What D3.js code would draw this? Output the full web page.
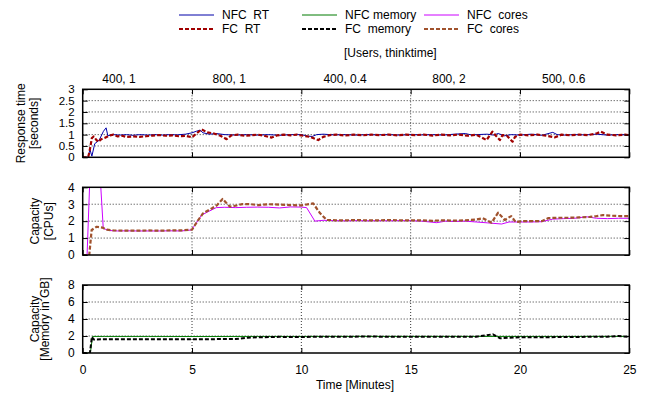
<!DOCTYPE html>
<html><head><meta charset="utf-8">
<script src="https://cdn.jsdelivr.net/npm/d3@7"></script>
<style>
body{margin:0;background:#fff;}
svg text{font-family:"Liberation Sans",Arial,Helvetica,sans-serif;font-size:12px;fill:#000;}
</style></head>
<body><svg id="c" width="650" height="398"></svg>
<script>
// ---- data ----
const xTicks = [0,5,10,15,20,25];
const phaseLabels = ["400, 1","800, 1","400, 0.4","800, 2","500, 0.6"];
const phasePos = [1.66,6.7,12.0,16.75,22.0];
const rtTicks = [0,0.5,1,1.5,2,2.5,3];
const cpuTicks = [0,1,2,3,4];
const memTicks = [0,2,4,6,8];

const nfcRT = [[0,0],[0.25,0],[0.33,0.35],[0.42,0.05],[0.55,0.6],[0.75,0.75],[0.95,1.15],[1.07,1.3],[1.15,0.95],[1.4,1.0],[1.7,0.98],[2.0,1.0],[2.3,0.97],[2.6,1.0],[3.0,0.98],[3.3,1.0],[3.6,0.98],[4.0,1.0],[4.3,0.99],[4.7,1.02],[5.0,1.08],[5.2,1.15],[5.37,1.2],[5.5,1.08],[5.8,1.02],[6.1,1.05],[6.5,1.0],[7.0,0.98],[7.5,1.0],[8,0.98],[8.5,1.0],[9,0.97],[9.5,1.0],[10,1.0],[10.3,0.93],[10.5,0.92],[10.7,1.0],[11,1.02],[11.5,0.99],[12,1.0],[12.5,0.98],[13,1.0],[13.5,0.99],[14,1.0],[14.5,0.98],[15,1.0],[15.5,0.99],[16,1.0],[16.5,0.98],[17,1.02],[17.5,1.05],[17.8,0.98],[18,1.0],[18.5,1.02],[18.8,0.98],[19,1.05],[19.3,0.95],[19.6,1.0],[20,0.98],[20.5,1.02],[21,0.97],[21.5,1.1],[21.7,1.0],[22,0.98],[22.5,1.0],[23,0.99],[23.5,1.02],[24,0.98],[24.5,1.0],[25,0.99]];
const fcRT = [[0,0],[0.25,0],[0.32,0.3],[0.42,0.85],[0.5,0.92],[0.6,0.8],[0.71,0.68],[0.85,0.8],[1.0,0.85],[1.2,0.95],[1.4,1.0],[1.6,0.92],[1.8,0.95],[2.0,0.9],[2.3,0.92],[2.6,0.9],[2.9,0.93],[3.2,0.96],[3.5,0.98],[3.8,0.95],[4.1,0.97],[4.4,0.93],[4.7,0.95],[5.0,0.88],[5.2,1.05],[5.44,1.23],[5.7,1.1],[6.0,1.05],[6.3,0.95],[6.58,0.8],[6.8,0.97],[7.1,1.0],[7.4,0.95],[7.7,0.97],[8.0,1.0],[8.3,0.95],[8.64,0.87],[8.9,0.97],[9.2,1.0],[9.5,0.97],[9.8,1.0],[10.1,0.95],[10.4,0.9],[10.77,0.76],[11.0,0.9],[11.3,0.98],[11.6,1.0],[12,0.96],[12.4,1.0],[12.8,0.97],[13.2,1.0],[13.6,0.98],[14,1.0],[14.4,0.97],[14.8,1.0],[15.2,0.98],[15.6,1.0],[16,0.96],[16.4,1.0],[16.8,0.97],[17.2,1.0],[17.6,0.95],[18.0,1.0],[18.2,0.9],[18.47,0.76],[18.74,1.13],[18.9,0.95],[19.08,0.76],[19.2,0.98],[19.4,0.95],[19.66,0.69],[19.77,0.9],[20.0,1.0],[20.4,0.97],[20.8,1.0],[21.2,0.95],[21.6,0.88],[21.9,1.0],[22.3,0.97],[22.7,1.0],[23.1,0.98],[23.5,1.05],[23.7,1.13],[24.0,1.0],[24.4,0.97],[24.8,1.0],[25,0.98]];
const nfcCores = [[0,0],[0.2,0],[0.33,4.6],[0.8,4.6],[0.94,1.57],[1.2,1.45],[1.6,1.42],[2,1.43],[2.5,1.42],[3,1.42],[3.5,1.42],[4,1.43],[4.5,1.42],[4.98,1.48],[5.2,1.9],[5.44,2.36],[5.8,2.6],[6.11,2.8],[6.5,2.82],[7,2.8],[7.5,2.82],[8,2.83],[8.5,2.82],[9,2.78],[9.5,2.84],[10,2.83],[10.24,2.8],[10.62,2.0],[11,2.05],[11.5,2.03],[12,2.02],[12.5,2.03],[13,2.02],[13.5,2.03],[14,2.02],[14.5,2.03],[15,2.03],[15.5,2.0],[16.19,1.91],[16.6,2.0],[17,1.98],[17.5,2.0],[18,1.95],[18.5,1.9],[19.16,1.83],[19.5,1.95],[20,1.95],[20.5,1.95],[21,1.97],[21.5,2.12],[22,2.15],[22.5,2.17],[23.04,2.26],[23.5,2.17],[24,2.15],[24.5,2.17],[25,2.17]];
const fcCores = [[0,0],[0.3,0],[0.41,1.48],[0.64,1.67],[0.9,1.62],[1.1,1.5],[1.4,1.45],[2,1.44],[2.5,1.44],[3,1.45],[3.5,1.44],[4,1.45],[4.5,1.45],[5,1.5],[5.2,1.9],[5.5,2.46],[5.9,2.75],[6.15,2.95],[6.4,3.31],[6.73,2.86],[7.0,2.92],[7.3,3.01],[7.7,3.0],[8.0,2.95],[8.5,3.0],[9.0,2.98],[9.5,2.95],[10.0,2.93],[10.54,3.05],[10.85,2.48],[11.16,2.07],[11.6,2.05],[12,2.05],[12.5,2.06],[13,2.05],[13.5,2.05],[14,2.06],[14.5,2.05],[15,2.05],[15.5,2.05],[16,2.02],[16.5,2.05],[17,2.03],[17.5,2.05],[18,2.1],[18.3,2.17],[18.7,1.91],[19.0,2.5],[19.3,2.07],[19.6,2.3],[19.8,1.95],[20.2,2.0],[20.6,2.0],[21.0,2.0],[21.3,2.18],[21.7,2.2],[22.2,2.2],[22.7,2.22],[23.2,2.25],[23.5,2.3],[23.8,2.36],[24.2,2.32],[24.6,2.3],[25,2.3]];
const nfcMem = [[0,0],[0.35,0],[0.45,1.95],[1,1.95],[3,1.95],[5,1.94],[8,1.95],[10,1.95],[12,1.95],[15,1.95],[18,1.95],[20,1.95],[22,1.95],[25,1.95]];
const fcMem = [[0,0],[0.33,0],[0.42,1.9],[0.5,1.58],[0.6,1.6],[1,1.62],[2,1.63],[3,1.62],[4,1.63],[5,1.62],[6,1.63],[7,1.65],[7.56,1.8],[8,1.85],[9,1.9],[10,1.88],[11,1.92],[12,1.9],[13,1.95],[14,1.9],[15,1.92],[16,1.9],[17,1.9],[18,1.92],[18.76,2.2],[19.1,1.73],[19.5,1.8],[20,1.85],[21,1.85],[22,1.88],[23,1.9],[24,1.92],[24.5,2.0],[25,1.9]];

// ---- layout ----
const svg = d3.select("#c");
const x = d3.scaleLinear().domain([0,25]).range([82.7,629.3]);
const C = {nfcRT:"#0000a8", fcRT:"#a00000", nfcCores:"#cc00ff", fcCores:"#a0522d", nfcMem:"#007a00", fcMem:"#000000"};
const panels = [
  {y:d3.scaleLinear().domain([0,3]).range([157.3,89.3]), ticks:rtTicks, lab:["Response time","[seconds]"], lx:[25,38], fs:11.5,
   series:[{d:nfcRT,c:C.nfcRT,w:1,dash:null},{d:fcRT,c:C.fcRT,w:2.2,dash:"4,2"}]},
  {y:d3.scaleLinear().domain([0,4]).range([255,187.3]), ticks:cpuTicks, lab:["Capacity","[CPUs]"], lx:[38.5,53], fs:12,
   series:[{d:nfcCores,c:C.nfcCores,w:1,dash:null},{d:fcCores,c:C.fcCores,w:2.2,dash:"4,2"}]},
  {y:d3.scaleLinear().domain([0,8]).range([353,285]), ticks:memTicks, lab:["Capacity","[Memory in GB]"], lx:[39,49], fs:12,
   series:[{d:nfcMem,c:C.nfcMem,w:1,dash:null},{d:fcMem,c:C.fcMem,w:2,dash:"4,2"}]}
];
const x0 = x.range()[0], x1 = x.range()[1];

panels.forEach((p,i)=>{
  const y = p.y, yb = y.range()[0], yt = y.range()[1];
  const g = svg.append("g");
  const inner = p.ticks.slice(1,-1);
  g.selectAll(".hg").data(inner).join("line")
    .attr("x1",x0).attr("x2",x1).attr("y1",d=>y(d)).attr("y2",d=>y(d))
    .attr("stroke","#000").attr("stroke-width",0.8).attr("stroke-dasharray","1,2");
  g.selectAll(".vg").data(xTicks.slice(1,-1)).join("line")
    .attr("x1",d=>x(d)).attr("x2",d=>x(d)).attr("y1",yt).attr("y2",yb)
    .attr("stroke","#000").attr("stroke-width",0.8).attr("stroke-dasharray","1,2");
  const cid = "clip"+i;
  svg.append("clipPath").attr("id",cid).append("rect")
    .attr("x",x0).attr("y",yt).attr("width",x1-x0).attr("height",yb-yt);
  const line = d3.line().x(d=>x(d[0])).y(d=>y(d[1]));
  const lg = g.append("g").attr("clip-path",`url(#${cid})`);
  p.series.forEach(s=>{
    lg.append("path").datum(s.d).attr("d",line).attr("fill","none")
      .attr("stroke",s.c).attr("stroke-width",s.w)
      .attr("stroke-dasharray",s.dash).attr("stroke-linejoin","round");
  });
  const fmt = d=>String(d);
  const la = g.append("g").attr("transform",`translate(${x0},0)`)
    .call(d3.axisLeft(y).tickValues(p.ticks).tickFormat(fmt).tickSize(-5).tickPadding(8));
  const ra = g.append("g").attr("transform",`translate(${x1},0)`)
    .call(d3.axisRight(y).tickValues(p.ticks).tickFormat("").tickSize(-5));
  const ba = g.append("g").attr("transform",`translate(0,${yb})`)
    .call(d3.axisBottom(x).tickValues(xTicks).tickFormat(i===2?fmt:"").tickSize(-5).tickPadding(12));
  const ta = g.append("g").attr("transform",`translate(0,${yt})`)
    .call(d3.axisTop(x).tickValues(xTicks).tickFormat("").tickSize(-5));
  [la,ra,ba,ta].forEach(a=>{
    a.select(".domain").remove();
    a.selectAll("line").attr("stroke","#000").attr("stroke-width",1);
    a.selectAll("text").attr("font-family",null).attr("font-size",null).style("font-size","12px").attr("fill","#000");
  });
  la.selectAll("text").style("font-size",p.fs+"px");
  ba.selectAll("text").attr("dy","0.71em");
  g.append("rect").attr("x",x0).attr("y",yt).attr("width",x1-x0).attr("height",yb-yt)
    .attr("fill","none").attr("stroke","#000").attr("stroke-width",1.5);
  const cy = (yt+yb)/2;
  p.lab.forEach((t,k)=>{
    svg.append("text").attr("transform",`translate(${p.lx[k]},${cy}) rotate(-90)`)
      .attr("text-anchor","middle").text(t);
  });
});

svg.selectAll(".ph").data(phaseLabels).join("text")
  .attr("x",(d,i)=>x(phasePos[i])).attr("y",83).attr("text-anchor","middle").text(d=>d);
svg.append("text").attr("x",344).attr("y",57).text("[Users, thinktime]");
svg.append("text").attr("x",355).attr("y",389).attr("text-anchor","middle").text("Time [Minutes]");

const legend = [
  {t:"NFC  RT",c:C.nfcRT,w:1,dash:null,lx:179,row:0},
  {t:"FC  RT",c:C.fcRT,w:2.2,dash:"4,2",lx:179,row:1},
  {t:"NFC memory",c:C.nfcMem,w:1,dash:null,lx:302,row:0},
  {t:"FC  memory",c:C.fcMem,w:2,dash:"4,2",lx:302,row:1},
  {t:"NFC  cores",c:C.nfcCores,w:1,dash:null,lx:424,row:0},
  {t:"FC  cores",c:C.fcCores,w:2.2,dash:"4,2",lx:424,row:1}
];
legend.forEach(l=>{
  const yy = 15 + l.row*14;
  svg.append("line").attr("x1",l.lx).attr("x2",l.lx+35).attr("y1",yy).attr("y2",yy)
    .attr("stroke",l.c).attr("stroke-width",l.w).attr("stroke-dasharray",l.dash);
  svg.append("text").attr("x",l.lx+43).attr("y",yy+4.3).style("white-space","pre").text(l.t);
});
</script></body></html>
